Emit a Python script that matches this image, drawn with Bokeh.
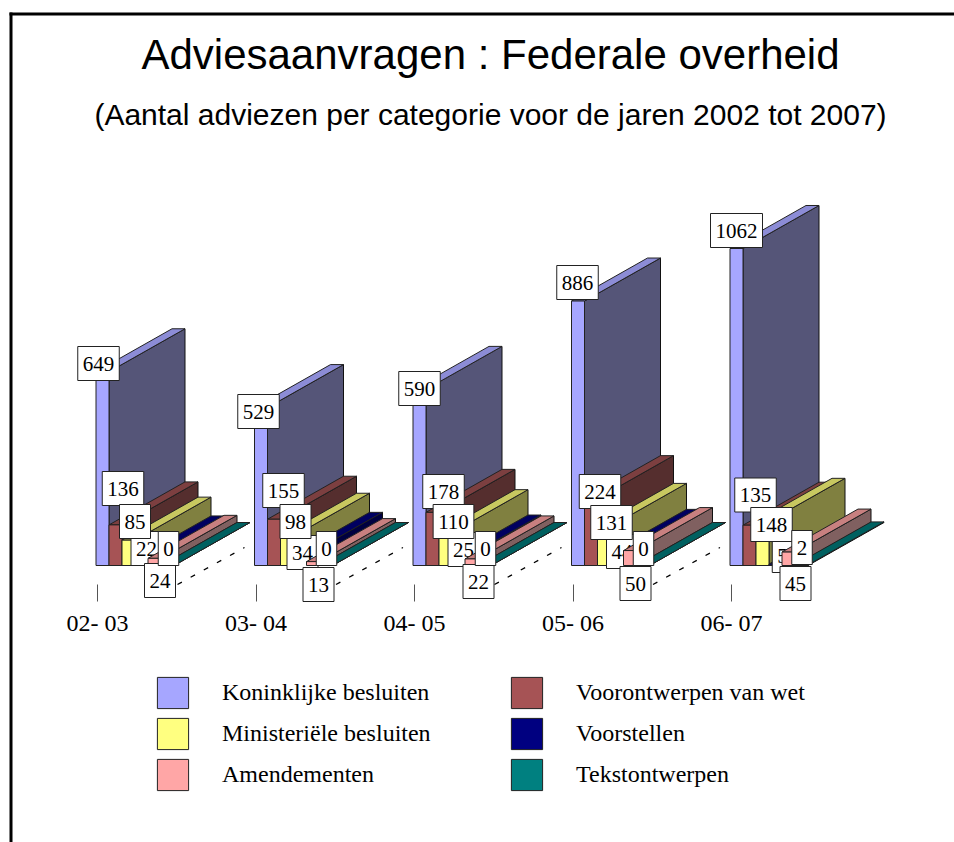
from bokeh.plotting import figure
from bokeh.models import Label, BoxAnnotation, FixedTicker, Legend, LegendItem
from bokeh.embed import file_html
from bokeh.resources import INLINE

# ---- data ----
years = ["02- 03", "03- 04", "04- 05", "05- 06", "06- 07"]
koninklijke = [649, 529, 590, 886, 1062]
voorontwerpen = [136, 155, 178, 224, 135]
ministeriele = [85, 98, 110, 131, 148]
voorstellen = [22, 34, 25, 44, 5]
amendementen = [24, 13, 22, 50, 45]
tekstontwerpen = [0, 0, 0, 0, 2]
series_names = ["Koninklijke besluiten", "Voorontwerpen van wet", "Ministeriële besluiten",
                "Voorstellen", "Amendementen", "Tekstontwerpen"]
series_values = [koninklijke, voorontwerpen, ministeriele, voorstellen, amendementen, tekstontwerpen]

# ---- styles (front, top, side) ----
colors = [("#A6A6FF", "#8C8CD6", "#555578"), ("#A65355", "#7C3F40", "#552E2E"),
          ("#FFFF80", "#C8C860", "#808040"), ("#000080", "#000060", "#000040"),
          ("#FFA6A6", "#C88080", "#806060"), ("#008080", "#006060", "#004040")]

# ---- layout in page pixels ----
W, H = 954, 842
GROUP_PX = 158.5
TICK0_PX = 97.0
BASE_PX = 565.0
TICK_TOP_PX = 584.0
BAR0_OFF = -1.5
BAR_W = 13.0
DEPTH_X = 76.0
DEPTH_Y = 43.0
PX_PER_UNIT = 0.2985
LABEL_CENTRES = [
    [(98, 363), (122.5, 488), (134.5, 521), (146, 548), (159.5, 580), (168, 548)],
    [(258, 411), (283, 490), (295, 521), (302, 552), (318, 584), (326, 548)],
    [(419, 388), (443, 491), (453, 521), (463, 549), (478, 581), (485, 548)],
    [(577, 282), (599.5, 491), (611, 522), (621.5, 551), (635, 583), (643, 548)],
    [(736, 230), (755, 494.5), (771, 524), (782, 555), (795, 583), (801.5, 547)],
]

xs = lambda px: px / GROUP_PX
ys = lambda px: px / PX_PER_UNIT
x_start = -TICK0_PX / GROUP_PX
x_end = x_start + W / GROUP_PX
y_end = ys(BASE_PX)
y_start = -ys(H - BASE_PX)

p = figure(frame_width=W, frame_height=H, x_range=(x_start, x_end), y_range=(y_start, y_end),
           output_backend="svg", toolbar_location=None, y_axis_location=None,
           min_border=0, min_border_bottom=0, min_border_left=0, min_border_right=0, min_border_top=0,
           background_fill_color="white", border_fill_color="white", outline_line_color=None)
p.grid.visible = False

ax = p.xaxis[0]
ax.fixed_location = -ys(TICK_TOP_PX - BASE_PX)
ax.ticker = FixedTicker(ticks=list(range(len(years))))
ax.major_label_overrides = {i: y for i, y in enumerate(years)}
ax.axis_line_color = None
ax.major_tick_in = 0
ax.major_tick_out = 17
ax.major_tick_line_color = "#555555"
ax.minor_tick_line_color = None
ax.major_label_standoff = 8
ax.major_label_text_font = "Liberation Serif"
ax.major_label_text_font_size = "24px"
ax.major_label_text_color = "black"

# floor dashes
dash_groups = range(len(years) - 1)
p.multi_line([[g + xs(80), g + xs(147)] for g in dash_groups],
             [[ys(-19), ys(18)] for g in dash_groups],
             line_color="black", line_width=1.3, line_dash="5 10")

legend_items = {}
def bars(i, level="glyph"):
    vals = series_values[i]
    left = [g + xs(BAR0_OFF + i * BAR_W) for g in range(len(vals))]
    right = [l + xs(BAR_W) for l in left]
    dx, dy = xs(DEPTH_X), ys(DEPTH_Y)
    front, top, side = colors[i]
    p.patches([[r, r + dx, r + dx, r] for r in right],
              [[0, dy, v + dy, v] for v in vals],
              fill_color=side, line_color="#111111", line_width=1, level=level)
    p.patches([[l, r, r + dx, l + dx] for l, r in zip(left, right)],
              [[v, v, v + dy, v + dy] for v in vals],
              fill_color=top, line_color="#222222", line_width=1, level=level)
    legend_items[i] = p.quad(left=left, right=right, bottom=[0] * len(vals), top=vals,
                             fill_color=front, line_color="#222222", line_width=1, level=level)

def labels(i, level):
    for g, v in enumerate(series_values[i]):
        cx, cy = LABEL_CENTRES[g][i]
        bx = g + xs(BAR0_OFF + (i + 0.5) * BAR_W)
        px_x = TICK0_PX + bx * GROUP_PX
        px_y = BASE_PX - v * PX_PER_UNIT
        p.add_layout(Label(x=bx, y=v, text=str(v), x_offset=cx - px_x, y_offset=px_y - cy,
                           text_align="center", text_baseline="middle",
                           text_font="Liberation Serif", text_font_size="21px", text_color="black",
                           background_fill_color="white", border_line_color="#222222",
                           border_line_width=1, padding=(5, 10), level=level))

for i in range(4):
    bars(i)
labels(3, "glyph")
for i in (4, 5):
    bars(i, level="guide")
for i in (0, 1, 2, 4, 5):
    labels(i, "annotation")

# title texts
for text, y, size in [("Adviesaanvragen : Federale overheid", H - 54, "42px"),
                      ("(Aantal adviezen per categorie voor de jaren 2002 tot 2007)", H - 114, "30px")]:
    p.add_layout(Label(x=490, y=y, x_units="screen", y_units="screen", text=text,
                       text_align="center", text_baseline="middle", text_font="Liberation Sans",
                       text_font_size=size, text_color="black"))

# page frame lines
p.add_layout(BoxAnnotation(left=9, right=12, top=12, bottom=H, left_units="canvas", right_units="canvas",
                           top_units="canvas", bottom_units="canvas", fill_color="black", fill_alpha=1,
                           line_color=None, level="overlay"))
p.add_layout(BoxAnnotation(left=9, right=W, top=12, bottom=15, left_units="canvas", right_units="canvas",
                           top_units="canvas", bottom_units="canvas", fill_color="black", fill_alpha=1,
                           line_color=None, level="overlay"))

# legend
legend = Legend(items=[LegendItem(label=series_names[i], renderers=[legend_items[i]]) for i in range(6)],
                ncols=2, orientation="horizontal", glyph_width=39, glyph_height=39, spacing=2,
                label_standoff=30, label_width=283, label_text_font="Liberation Serif",
                label_text_font_size="24px", label_text_color="black", label_text_baseline="bottom",
                border_line_color=None, background_fill_color=None, padding=0, margin=0,
                location=(153, 48))
p.add_layout(legend)

open("out.html", "w").write(file_html(p, INLINE))
